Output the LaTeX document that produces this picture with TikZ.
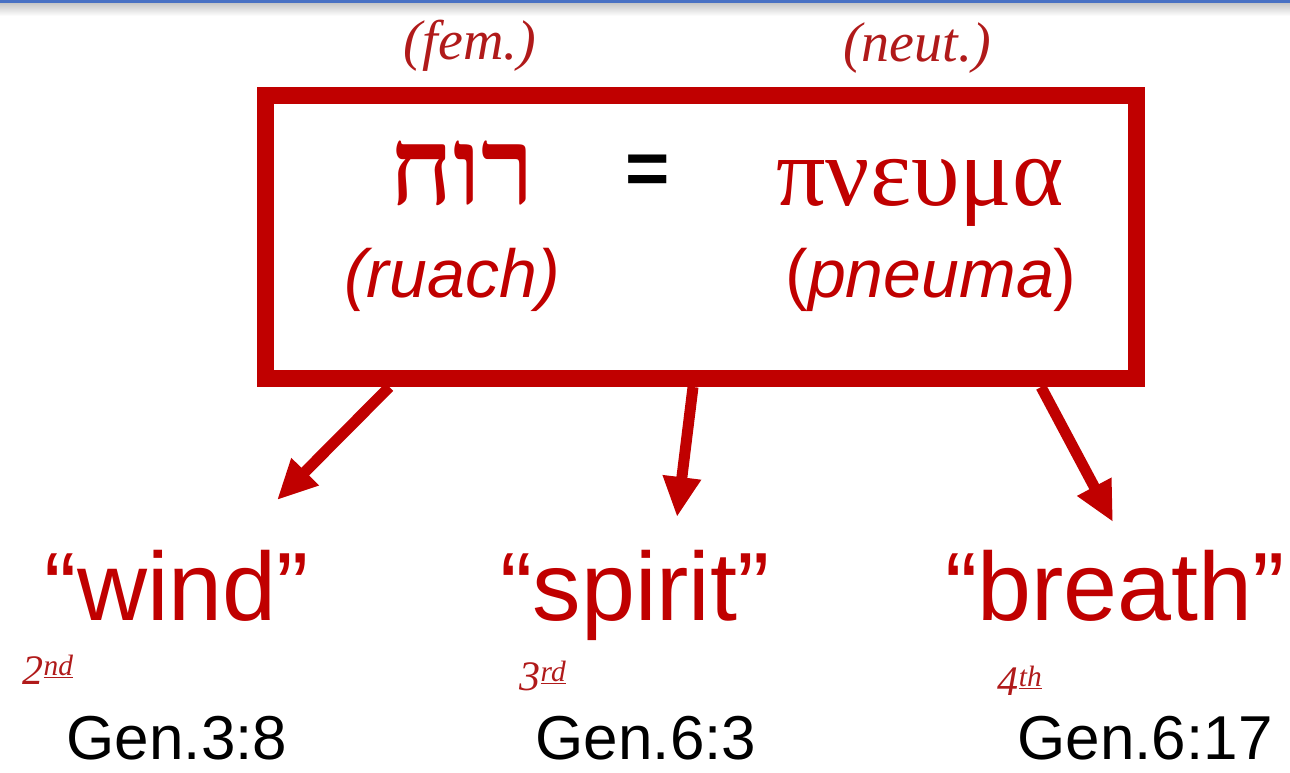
\documentclass[tikz,border=0pt]{standalone}
\usepackage{fontspec}
\setmainfont{Liberation Sans}
\newfontfamily\hebfont[Script=Hebrew]{Liberation Serif}
\newfontfamily\grkfont{Liberation Serif}
\newfontfamily\handfont{Liberation Serif}
\TeXXeTstate=1
\usetikzlibrary{arrows.meta,positioning,calc}
\definecolor{Crimson}{HTML}{C00000}
\definecolor{Pen}{HTML}{B01A1A}
\definecolor{Bar}{HTML}{4A72C4}
\tikzset{
  glossframe/.style={draw=Crimson,line width=17pt,minimum width=871pt,minimum height=283pt,inner sep=0pt},
  term/.style={text=Crimson,inner sep=0pt,anchor=base},
  word/.style={term,font=\fontsize{97pt}{110pt}\selectfont},
  verse/.style={text=black,inner sep=0pt,anchor=base,font=\fontsize{62pt}{66pt}\selectfont},
  note/.style={text=Pen,inner sep=0pt,font=\handfont\itshape\fontsize{56pt}{60pt}\selectfont},
  ordinal/.style={note,font=\handfont\itshape\fontsize{42pt}{46pt}\selectfont},
  link/.style={-{Triangle[length=40pt,width=36pt]},draw=Crimson,line width=11pt}
}
\begin{document}
\begin{tikzpicture}[x=1pt,y=-1pt]
    \useasboundingbox (0,0) rectangle (1290,772);
    \fill[Bar] (0,0) rectangle (1290,3);
    \shade[top color=black!22,bottom color=white] (0,3) rectangle (1290,16);
    \node[glossframe] (glossbox) at (701,237) {};
    \node[term,font=\hebfont\bfseries\fontsize{108pt}{120pt}\selectfont] (ruach) at (462,204) {\beginR רוח\endR};
    \node[text=black,inner sep=0pt,font=\bfseries\fontsize{76pt}{80pt}\selectfont] (eq) at (648,175) {=};
    \node[term,font=\grkfont\fontsize{98pt}{110pt}\selectfont] (pneuma) at (920,205) {πνευμα};
    \node[term,font=\itshape\fontsize{68pt}{75pt}\selectfont] (ruachtr) at (452,297) {(ruach)};
    \node[term,font=\fontsize{68pt}{75pt}\selectfont] (pneumatr) at (931,297) {(\textit{pneuma})};
    \node[note] (fem) at (470,46) {(fem.)};
    \node[note] (neut) at (917,48) {(neut.)};
    % the three senses
    \node[word] (wind) at (177,620) {“wind”};
    \node[word] (spirit) at (635,620) {“spirit”};
    \node[word] (breath) at (1115,620) {“breath”};
    \node[ordinal] (o2) at (48,670) {2\textsuperscript{\underline{nd}}};
    \node[ordinal] (o3) at (543,676) {3\textsuperscript{\underline{rd}}};
    \node[ordinal] (o4) at (1020,681) {4\textsuperscript{\underline{th}}};
    \node[verse] (g1) at (177,759) {Gen.3:8};
    \node[verse] (g2) at (646,759) {Gen.6:3};
    \node[verse] (g3) at (1145,759) {Gen.6:17};
    % arrows out of the box
    \coordinate (s1) at ($(glossbox.south west)!0.149!(glossbox.south east)$);
    \coordinate (s2) at ($(glossbox.south west)!0.491!(glossbox.south east)$);
    \coordinate (s3) at ($(glossbox.south west)!0.883!(glossbox.south east)$);
    \coordinate (t1) at (277,500); \coordinate (t2) at (677,517); \coordinate (t3) at (1113,522);
    \draw[link] (s1)--(t1);
    \draw[link] (s2)--(t2);
    \draw[link] (s3)--(t3);
  \end{tikzpicture}
\end{document}
